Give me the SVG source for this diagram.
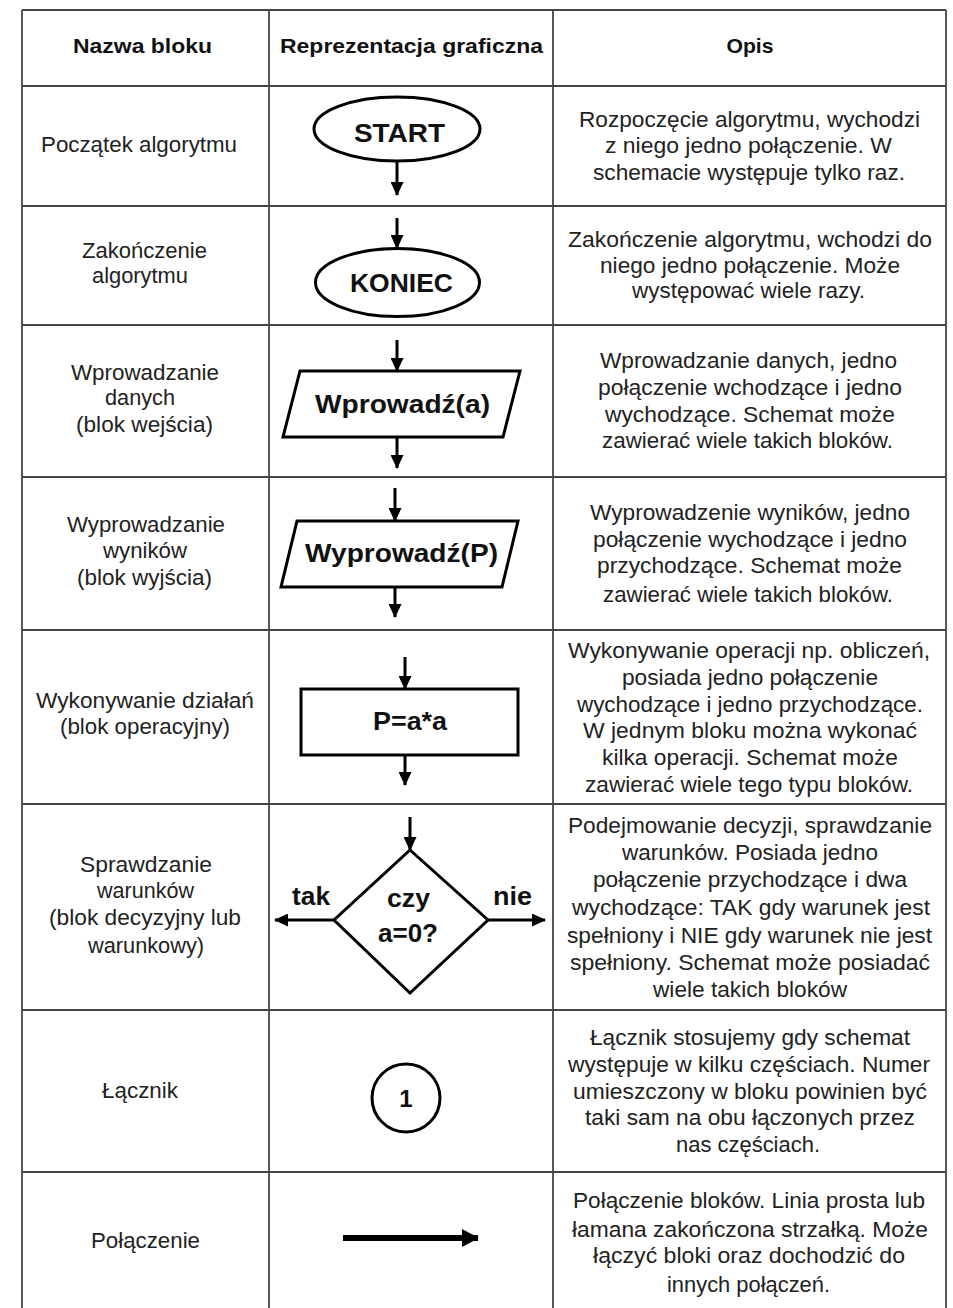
<svg xmlns="http://www.w3.org/2000/svg" width="953" height="1308" viewBox="0 0 953 1308">
<style>
.grid{stroke:#454545;stroke-width:1.8;fill:none}
.shape{fill:#fff;stroke:#000;stroke-width:3}
.flow{stroke:#000;stroke-width:3;fill:none;marker-end:url(#ah)}
.t{font-family:"Liberation Sans",Arial,sans-serif;font-size:21.5px;fill:#222;text-anchor:middle}
.h{font-family:"Liberation Sans",Arial,sans-serif;font-size:21px;font-weight:bold;fill:#111;text-anchor:middle}
.b{font-family:"Liberation Sans",Arial,sans-serif;font-size:25.5px;font-weight:bold;fill:#111;text-anchor:middle}
</style>
<defs>
<marker id="ah" markerUnits="userSpaceOnUse" markerWidth="14" markerHeight="13" refX="13" refY="6.5" orient="auto">
<path d="M0,0 L14,6.5 L0,13 z" fill="#000"/>
</marker>
<marker id="ahBig" markerUnits="userSpaceOnUse" markerWidth="17" markerHeight="18" refX="16" refY="9" orient="auto">
<path d="M0,0 L17,9 L0,18 z" fill="#000"/>
</marker>
</defs>
<rect width="953" height="1308" fill="#fff"/>

<g id="table">
<line class="grid" x1="22" y1="10" x2="946" y2="10"/>
<line class="grid" x1="22" y1="10" x2="22" y2="1308"/>
<line class="grid" x1="269" y1="10" x2="269" y2="1308"/>
<line class="grid" x1="553" y1="10" x2="553" y2="1308"/>
<line class="grid" x1="946" y1="10" x2="946" y2="1308"/>
<line class="grid" x1="22" y1="86" x2="946" y2="86"/>
<line class="grid" x1="22" y1="206" x2="946" y2="206"/>
<line class="grid" x1="22" y1="325" x2="946" y2="325"/>
<line class="grid" x1="22" y1="477" x2="946" y2="477"/>
<line class="grid" x1="22" y1="630" x2="946" y2="630"/>
<line class="grid" x1="22" y1="804" x2="946" y2="804"/>
<line class="grid" x1="22" y1="1010" x2="946" y2="1010"/>
<line class="grid" x1="22" y1="1172" x2="946" y2="1172"/>
</g>

<g id="header">
<text class="h" x="142.5" y="53" textLength="139" lengthAdjust="spacingAndGlyphs">Nazwa bloku</text>
<text class="h" x="411.5" y="53" textLength="263" lengthAdjust="spacingAndGlyphs">Reprezentacja graficzna</text>
<text class="h" x="750" y="53" textLength="47" lengthAdjust="spacingAndGlyphs">Opis</text>
</g>

<g id="names">
<text class="t" x="139" y="152" textLength="196" lengthAdjust="spacingAndGlyphs">Początek algorytmu</text>
<text class="t" x="144.5" y="258" textLength="125" lengthAdjust="spacingAndGlyphs">Zakończenie</text>
<text class="t" x="140" y="283" textLength="96" lengthAdjust="spacingAndGlyphs">algorytmu</text>
<text class="t" x="145" y="380" textLength="148" lengthAdjust="spacingAndGlyphs">Wprowadzanie</text>
<text class="t" x="140" y="405" textLength="70" lengthAdjust="spacingAndGlyphs">danych</text>
<text class="t" x="144.5" y="432" textLength="137" lengthAdjust="spacingAndGlyphs">(blok wejścia)</text>
<text class="t" x="146" y="532" textLength="158" lengthAdjust="spacingAndGlyphs">Wyprowadzanie</text>
<text class="t" x="145" y="558" textLength="84" lengthAdjust="spacingAndGlyphs">wyników</text>
<text class="t" x="144.5" y="585" textLength="135" lengthAdjust="spacingAndGlyphs">(blok wyjścia)</text>
<text class="t" x="145" y="708" textLength="218" lengthAdjust="spacingAndGlyphs">Wykonywanie działań</text>
<text class="t" x="145" y="734" textLength="170" lengthAdjust="spacingAndGlyphs">(blok operacyjny)</text>
<text class="t" x="146" y="872" textLength="132" lengthAdjust="spacingAndGlyphs">Sprawdzanie</text>
<text class="t" x="145.5" y="898" textLength="97" lengthAdjust="spacingAndGlyphs">warunków</text>
<text class="t" x="145" y="925" textLength="192" lengthAdjust="spacingAndGlyphs">(blok decyzyjny lub</text>
<text class="t" x="146" y="953" textLength="116" lengthAdjust="spacingAndGlyphs">warunkowy)</text>
<text class="t" x="140" y="1098" textLength="76" lengthAdjust="spacingAndGlyphs">Łącznik</text>
<text class="t" x="145.5" y="1248" textLength="109" lengthAdjust="spacingAndGlyphs">Połączenie</text>
</g>

<g id="descriptions">
<text class="t" x="749.5" y="127" textLength="341" lengthAdjust="spacingAndGlyphs">Rozpoczęcie algorytmu, wychodzi</text>
<text class="t" x="748.5" y="153" textLength="287" lengthAdjust="spacingAndGlyphs">z niego jedno połączenie. W</text>
<text class="t" x="749" y="180" textLength="312" lengthAdjust="spacingAndGlyphs">schemacie występuje tylko raz.</text>

<text class="t" x="750" y="247" textLength="364" lengthAdjust="spacingAndGlyphs">Zakończenie algorytmu, wchodzi do</text>
<text class="t" x="750" y="273" textLength="300" lengthAdjust="spacingAndGlyphs">niego jedno połączenie. Może</text>
<text class="t" x="748.5" y="298" textLength="233" lengthAdjust="spacingAndGlyphs">występować wiele razy.</text>

<text class="t" x="748.5" y="368" textLength="297" lengthAdjust="spacingAndGlyphs">Wprowadzanie danych, jedno</text>
<text class="t" x="750" y="395" textLength="304" lengthAdjust="spacingAndGlyphs">połączenie wchodzące i jedno</text>
<text class="t" x="750" y="422" textLength="290" lengthAdjust="spacingAndGlyphs">wychodzące. Schemat może</text>
<text class="t" x="747.5" y="448" textLength="291" lengthAdjust="spacingAndGlyphs">zawierać wiele takich bloków.</text>

<text class="t" x="750" y="520" textLength="320" lengthAdjust="spacingAndGlyphs">Wyprowadzenie wyników, jedno</text>
<text class="t" x="750" y="547" textLength="314" lengthAdjust="spacingAndGlyphs">połączenie wychodzące i jedno</text>
<text class="t" x="749.5" y="573" textLength="305" lengthAdjust="spacingAndGlyphs">przychodzące. Schemat może</text>
<text class="t" x="748" y="602" textLength="290" lengthAdjust="spacingAndGlyphs">zawierać wiele takich bloków.</text>

<text class="t" x="749" y="658" textLength="362" lengthAdjust="spacingAndGlyphs">Wykonywanie operacji np. obliczeń,</text>
<text class="t" x="750" y="685" textLength="256" lengthAdjust="spacingAndGlyphs">posiada jedno połączenie</text>
<text class="t" x="750" y="712" textLength="346" lengthAdjust="spacingAndGlyphs">wychodzące i jedno przychodzące.</text>
<text class="t" x="750" y="738" textLength="334" lengthAdjust="spacingAndGlyphs">W jednym bloku można wykonać</text>
<text class="t" x="750" y="765" textLength="296" lengthAdjust="spacingAndGlyphs">kilka operacji. Schemat może</text>
<text class="t" x="749" y="792" textLength="328" lengthAdjust="spacingAndGlyphs">zawierać wiele tego typu bloków.</text>

<text class="t" x="750" y="833" textLength="364" lengthAdjust="spacingAndGlyphs">Podejmowanie decyzji, sprawdzanie</text>
<text class="t" x="750" y="860" textLength="256" lengthAdjust="spacingAndGlyphs">warunków. Posiada jedno</text>
<text class="t" x="750" y="887" textLength="314" lengthAdjust="spacingAndGlyphs">połączenie przychodzące i dwa</text>
<text class="t" x="751" y="915" textLength="358" lengthAdjust="spacingAndGlyphs">wychodzące: TAK gdy warunek jest</text>
<text class="t" x="749.5" y="943" textLength="365" lengthAdjust="spacingAndGlyphs">spełniony i NIE gdy warunek nie jest</text>
<text class="t" x="750" y="970" textLength="360" lengthAdjust="spacingAndGlyphs">spełniony. Schemat może posiadać</text>
<text class="t" x="750" y="997" textLength="194" lengthAdjust="spacingAndGlyphs">wiele takich bloków</text>

<text class="t" x="750" y="1045" textLength="320" lengthAdjust="spacingAndGlyphs">Łącznik stosujemy gdy schemat</text>
<text class="t" x="749" y="1072" textLength="362" lengthAdjust="spacingAndGlyphs">występuje w kilku częściach. Numer</text>
<text class="t" x="750" y="1099" textLength="354" lengthAdjust="spacingAndGlyphs">umieszczony w bloku powinien być</text>
<text class="t" x="750" y="1125" textLength="330" lengthAdjust="spacingAndGlyphs">taki sam na obu łączonych przez</text>
<text class="t" x="748" y="1152" textLength="144" lengthAdjust="spacingAndGlyphs">nas częściach.</text>

<text class="t" x="749" y="1208" textLength="352" lengthAdjust="spacingAndGlyphs">Połączenie bloków. Linia prosta lub</text>
<text class="t" x="750" y="1237" textLength="356" lengthAdjust="spacingAndGlyphs">łamana zakończona strzałką. Może</text>
<text class="t" x="749" y="1263" textLength="312" lengthAdjust="spacingAndGlyphs">łączyć bloki oraz dochodzić do</text>
<text class="t" x="748.5" y="1292" textLength="163" lengthAdjust="spacingAndGlyphs">innych połączeń.</text>
</g>

<g id="start">
<ellipse class="shape" cx="397" cy="129" rx="83" ry="32"/>
<text class="b" x="399.5" y="142" textLength="91" lengthAdjust="spacingAndGlyphs">START</text>
</g>
<g id="koniec">
<ellipse class="shape" cx="397.5" cy="282.5" rx="82" ry="34"/>
<text class="b" x="401.5" y="292" textLength="103" lengthAdjust="spacingAndGlyphs">KONIEC</text>
</g>
<g id="input">
<polygon class="shape" points="300,371 520,371 503,437 283,437"/>
<text class="b" x="402.5" y="413" textLength="175" lengthAdjust="spacingAndGlyphs">Wprowadź(a)</text>
</g>
<g id="output">
<polygon class="shape" points="297,521 518,521 502,587 281,587"/>
<text class="b" x="401.5" y="562" textLength="193" lengthAdjust="spacingAndGlyphs">Wyprowadź(P)</text>
</g>
<g id="process">
<rect class="shape" x="301" y="689" width="217" height="66"/>
<text class="b" x="410" y="730" textLength="74" lengthAdjust="spacingAndGlyphs">P=a*a</text>
</g>
<g id="decision">
<polygon class="shape" points="410,850 488,920 410,993 334,920"/>
<text class="b" x="408.5" y="907" textLength="43" lengthAdjust="spacingAndGlyphs">czy</text>
<text class="b" x="408" y="942" textLength="60" lengthAdjust="spacingAndGlyphs">a=0?</text>
<text class="b" x="311" y="905" textLength="38" lengthAdjust="spacingAndGlyphs">tak</text>
<text class="b" x="512.5" y="905" textLength="39" lengthAdjust="spacingAndGlyphs">nie</text>
</g>
<g id="connector">
<circle cx="406" cy="1098" r="34" fill="#fff" stroke="#000" stroke-width="3"/>
<text class="b" x="406" y="1107" style="font-size:24px">1</text>
</g>

<g id="connectors">
<line class="flow" x1="397" y1="161" x2="397" y2="195"/>
<line class="flow" x1="397" y1="218" x2="397" y2="248"/>
<line class="flow" x1="397" y1="340" x2="397" y2="371"/>
<line class="flow" x1="397" y1="437" x2="397" y2="468"/>
<line class="flow" x1="395" y1="488" x2="395" y2="521"/>
<line class="flow" x1="395" y1="587" x2="395" y2="617"/>
<line class="flow" x1="405" y1="657" x2="405" y2="689"/>
<line class="flow" x1="405" y1="755" x2="405" y2="785"/>
<line class="flow" x1="410" y1="817" x2="410" y2="850"/>
<line class="flow" x1="334" y1="920" x2="275" y2="920"/>
<line class="flow" x1="488" y1="920" x2="545" y2="920"/>
<line x1="343" y1="1238" x2="478" y2="1238" stroke="#000" stroke-width="6" marker-end="url(#ahBig)"/>
</g>
</svg>
